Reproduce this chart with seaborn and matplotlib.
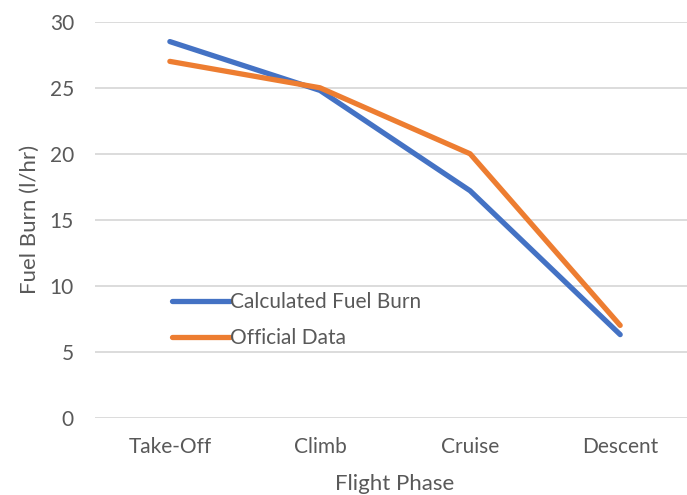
import matplotlib
matplotlib.use("Agg")
import matplotlib.pyplot as plt
import seaborn as sns
import pandas as pd

phases = ["Take-Off", "Climb", "Cruise", "Descent"]
calculated = [28.5, 24.8, 17.2, 6.3]
official = [27.0, 25.0, 20.0, 7.0]
series_names = ["Calculated Fuel Burn", "Official Data"]
y_ticks = [0, 5, 10, 15, 20, 25, 30]

sns.set_theme(style="white")
plt.rcParams["font.family"] = ["Lato", "DejaVu Sans"]

text_color = "#595959"
grid_color = "#d9d9d9"
palette = ["#4472c4", "#ed7d31"]

df = pd.DataFrame({
    "Flight Phase": phases * 2,
    "Fuel Burn": calculated + official,
    "Series": [series_names[0]] * 4 + [series_names[1]] * 4,
})
df["x"] = [phases.index(p) for p in df["Flight Phase"]]

fig = plt.figure(figsize=(6.87, 4.95), dpi=100)
ax = fig.add_axes([0.138, 0.156, 0.874, 0.80])

sns.lineplot(data=df, x="x", y="Fuel Burn", hue="Series", palette=palette,
             linewidth=3.8, ax=ax, sort=False,
             solid_capstyle="round", solid_joinstyle="round")

ax.set_xlim(-0.5, 3.5)
ax.set_ylim(0, 30)
ax.set_yticks(y_ticks)
ax.set_xticks(range(len(phases)))
ax.set_xticklabels(phases)
ax.yaxis.grid(True, color=grid_color, linewidth=1.3)
ax.set_axisbelow(True)
for s in ax.spines.values():
    s.set_visible(False)
ax.tick_params(axis="both", length=0, labelsize=15, colors=text_color)
ax.tick_params(axis="y", pad=15)
ax.tick_params(axis="x", pad=14)
ax.set_xlabel("Flight Phase", fontsize=16, color=text_color, labelpad=12)
ax.set_ylabel("Fuel Burn (l/hr)", fontsize=16, color=text_color, labelpad=7)

leg = ax.legend(loc="upper left", bbox_to_anchor=(0.112, 0.343), frameon=False,
                fontsize=15, handlelength=2.75, handletextpad=0.0,
                labelspacing=0.75, borderpad=0)
for t in leg.get_texts():
    t.set_color(text_color)
for h in leg.get_lines():
    h.set_linewidth(3.8)
    h.set_solid_capstyle("round")

fig.savefig("out.png", dpi=100)
